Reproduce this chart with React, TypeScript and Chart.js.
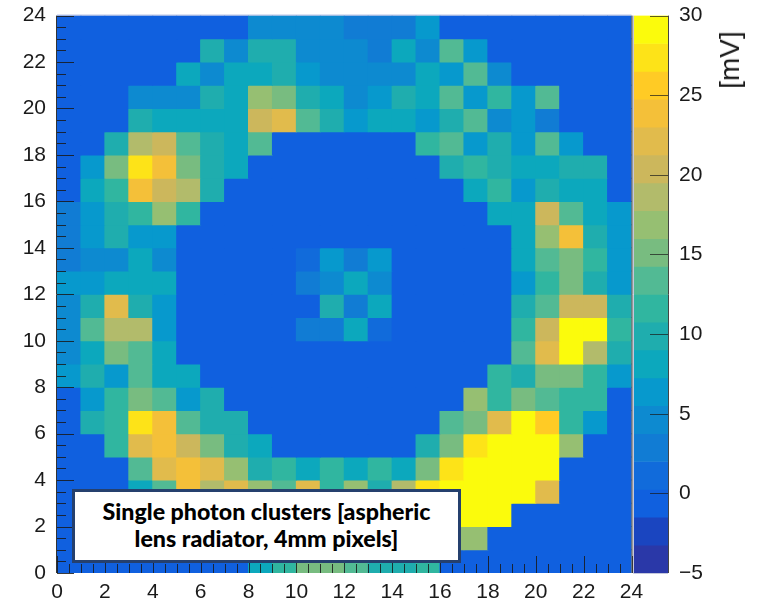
import React, { useEffect, useRef } from "react";
import { Chart, registerables } from "chart.js";

Chart.register(...registerables);

const NX = 24;
const NY = 24;
const Z_MIN = -5;
const Z_MAX = 30;
const X_TICK_STEP = 2;
const Y_TICK_STEP = 2;
const Z_TICK_STEP = 5;
const MINOR_STEP = 0.5;
const Z_UNIT = "[mV]";
const NOTE_LINES = ["Single photon clusters [aspheric", "lens radiator, 4mm pixels]"];

// palette bands, lowest value first
const paletteBands = [
  "#2a38a8", "#1a45c0", "#1060df", "#116bdb", "#117cd4", "#0d8ad0", "#0799cd",
  "#0ca8bd", "#1fadae", "#30b6a0", "#52ba94", "#78bc80", "#96bf72", "#b2bb6b",
  "#ccb75c", "#e1bb4c", "#f4c039", "#ffcb25", "#fde318", "#fbfb0c",
];

// values in mV per row, left to right
const row23 = [0,0,0,0,0,0,0,0,4.6,4.6,4.6,4.6,2.9,2.9,2.9,6.4,0,0,0,0,0,0,0,0];
const row22 = [0,0,0,0,0,0,9.9,4.6,9.9,9.9,4.6,4.6,4.6,2.9,8.1,4.6,13.4,6.4,0,0,0,0,0,0];
const row21 = [0,0,0,0,0,8.1,4.6,8.1,8.1,9.9,6.4,4.6,4.6,4.6,4.6,8.1,6.4,13.4,4.6,0,0,0,0,0];
const row20 = [0,0,0,4.6,4.6,4.6,9.9,8.1,16.9,15.1,9.9,8.1,4.6,6.4,9.9,8.1,13.4,6.4,11.6,6.4,13.4,0,0,0];
const row19 = [0,0,0,9.9,8.1,8.1,8.1,8.1,20.4,22.1,13.4,9.9,6.4,8.1,8.1,6.4,9.9,13.4,4.6,6.4,2.9,0,0,0];
const row18 = [0,0,9.9,18.6,20.4,13.4,9.9,8.1,13.4,0,0,0,0,0,0,11.6,13.4,6.4,9.9,6.4,13.4,6.4,0,0];
const row17 = [0,6.4,15.1,27.4,23.9,15.1,9.9,8.1,0,0,0,0,0,0,0,0,9.9,11.6,9.9,8.1,8.1,9.9,9.9,0];
const row16 = [0,8.1,11.6,23.9,20.4,18.6,9.9,0,0,0,0,0,0,0,0,0,0,8.1,11.6,6.4,9.9,8.1,8.1,0];
const row15 = [2.9,6.4,9.9,11.6,16.9,11.6,0,0,0,0,0,0,0,0,0,0,0,0,8.1,8.1,20.4,13.4,8.1,6.4];
const row14 = [2.9,6.4,9.9,6.4,6.4,0,0,0,0,0,0,0,0,0,0,0,0,0,0,8.1,16.9,23.9,9.9,6.4];
const row13 = [2.9,4.6,4.6,8.1,4.6,0,0,0,0,0,1.1,6.4,2.9,6.4,0,0,0,0,0,8.1,13.4,15.1,11.6,6.4];
const row12 = [6.4,6.4,8.1,8.1,8.1,0,0,0,0,0,2.9,4.6,8.1,4.6,0,0,0,0,0,6.4,11.6,15.1,9.9,6.4];
const row11 = [4.6,9.9,22.1,9.9,6.4,0,0,0,0,0,0,9.9,2.9,8.1,0,0,0,0,0,9.9,13.4,20.4,20.4,9.9];
const row10 = [4.6,13.4,18.6,18.6,6.4,0,0,0,0,0,2.9,2.9,8.1,1.1,0,0,0,0,0,11.6,20.4,30,30,11.6];
const row9 = [4.6,8.1,15.1,13.4,8.1,0,0,0,0,0,0,0,0,0,0,0,0,0,0,13.4,22.1,30,18.6,9.9];
const row8 = [6.4,9.9,6.4,13.4,8.1,8.1,0,0,0,0,0,0,0,0,0,0,0,0,11.6,9.9,15.1,15.1,11.6,6.4];
const row7 = [0,6.4,11.6,15.1,13.4,6.4,9.9,0,0,0,0,0,0,0,0,0,0,16.9,11.6,15.1,13.4,11.6,11.6,0];
const row6 = [0,9.9,11.6,27.4,23.9,13.4,9.9,9.9,0,0,0,0,0,0,0,0,13.4,15.1,22.1,30,25.6,11.6,6.4,0];
const row5 = [0,0,11.6,22.1,23.9,20.4,15.1,9.9,8.1,0,0,0,0,0,0,9.9,15.1,27.4,30,30,30,16.9,0,0];
const row4 = [0,0,0,13.4,22.1,23.9,22.1,16.9,9.9,11.6,8.1,11.6,8.1,11.6,8.1,15.1,27.4,30,30,30,30,0,0,0];
const row3 = [0,0,0,8.1,13.4,23.9,18.6,22.1,16.9,13.4,22.1,11.6,16.9,9.9,18.6,27.4,30,30,30,30,22.1,0,0,0];
const row2 = [0,0,0,0,6.4,11.6,13.4,15.1,13.4,11.6,13.4,15.1,13.4,15.1,20.4,30,30,30,30,0,0,0,0,0];
const row1 = [0,0,0,0,0,6.4,8.1,9.9,11.6,13.4,13.4,15.1,15.1,13.4,15.1,15.1,16.9,16.9,0,0,0,0,0,0];
const row0 = [0,0,0,0,0,0,0,0,8.1,11.6,15.1,15.1,13.4,9.9,9.9,11.6,0,0,0,0,0,0,0,0];

const rowsFromBottom = [
  row0, row1, row2, row3, row4, row5, row6, row7, row8, row9, row10, row11,
  row12, row13, row14, row15, row16, row17, row18, row19, row20, row21, row22, row23,
];

const bandWidth = (Z_MAX - Z_MIN) / paletteBands.length;
const colorOf = (v: number) =>
  paletteBands[Math.min(paletteBands.length - 1, Math.max(0, Math.floor((v - Z_MIN) / bandWidth)))];

const FONT = { family: "'Liberation Sans', Arial, sans-serif", size: 21 };
const TICK_COLOR = "#1a1a1a";

const frame = { left: 57, right: 631.5, top: 14, bottom: 573, barLeft: 634, barRight: 668 };

function seq(from: number, to: number, step: number) {
  const out: number[] = [];
  for (let i = 0; from + i * step <= to + 1e-9; i++) out.push(from + i * step);
  return out;
}

const heatTicks = {
  id: "heatTicks",
  afterDatasetsDraw(chart: any) {
    const { ctx, chartArea: a, scales } = chart;
    ctx.save();
    ctx.lineWidth = 1;
    ctx.strokeStyle = TICK_COLOR;
    ctx.globalAlpha = 0.85;
    seq(0, NX, MINOR_STEP).forEach((v) => {
      const px = Math.round(scales.x.getPixelForValue(v)) + 0.5;
      const len = v % X_TICK_STEP === 0 ? 17 : 9;
      ctx.beginPath();
      ctx.moveTo(px, a.bottom);
      ctx.lineTo(px, a.bottom - len);
      ctx.stroke();
    });
    seq(0, NY, MINOR_STEP).forEach((v) => {
      const py = Math.round(scales.y.getPixelForValue(v)) + 0.5;
      const len = v % Y_TICK_STEP === 0 ? 17 : 9;
      ctx.beginPath();
      ctx.moveTo(a.left, py);
      ctx.lineTo(a.left + len, py);
      ctx.stroke();
    });
    ctx.globalAlpha = 1;
    ctx.strokeStyle = "#333333";
    ctx.beginPath();
    ctx.moveTo(a.left - 0.5, a.top);
    ctx.lineTo(a.left - 0.5, a.bottom);
    ctx.moveTo(a.right + 0.5, a.top);
    ctx.lineTo(a.right + 0.5, a.bottom);
    ctx.stroke();
    ctx.strokeStyle = "#a9b8e0";
    ctx.beginPath();
    ctx.moveTo(a.left, a.top - 0.5);
    ctx.lineTo(a.right, a.top - 0.5);
    ctx.stroke();
    ctx.restore();
  },
};

const barTicks = {
  id: "barTicks",
  afterDatasetsDraw(chart: any) {
    const { ctx, chartArea: a, scales } = chart;
    ctx.save();
    ctx.lineWidth = 1;
    ctx.strokeStyle = TICK_COLOR;
    seq(Z_MIN, Z_MAX, Z_TICK_STEP).forEach((v) => {
      const py = Math.round(scales.y.getPixelForValue(v)) + 0.5;
      ctx.globalAlpha = 0.7;
      ctx.beginPath();
      ctx.moveTo(a.right - 18, py);
      ctx.lineTo(a.right, py);
      ctx.stroke();
    });
    ctx.globalAlpha = 1;
    ctx.strokeStyle = "#444444";
    ctx.beginPath();
    ctx.moveTo(a.right + 0.5, a.top);
    ctx.lineTo(a.right + 0.5, a.bottom);
    ctx.stroke();
    ctx.strokeStyle = "#c4c8dc";
    ctx.beginPath();
    ctx.moveTo(a.left - 0.5, a.top);
    ctx.lineTo(a.left - 0.5, a.bottom + 0.5);
    ctx.lineTo(a.right, a.bottom + 0.5);
    ctx.stroke();
    ctx.restore();
  },
};

export default function App() {
  const heatRef = useRef<HTMLCanvasElement>(null);
  const barRef = useRef<HTMLCanvasElement>(null);

  useEffect(() => {
    const points: { x: number; y: [number, number]; v: number }[] = [];
    rowsFromBottom.forEach((row, r) =>
      row.forEach((v, c) => points.push({ x: c + 0.5, y: [r, r + 1], v }))
    );

    const heat = new Chart(heatRef.current!, {
      type: "bar",
      data: {
        datasets: [
          {
            data: points as any,
            backgroundColor: points.map((p) => colorOf(p.v)),
            borderWidth: 0,
            barPercentage: 1,
            categoryPercentage: 1,
            inflateAmount: 0.5,
          } as any,
        ],
      },
      options: {
        responsive: false,
        animation: false,
        layout: {
          padding: { top: frame.top, right: 776 - frame.right, left: 0, bottom: 0 },
        },
        plugins: { legend: { display: false }, tooltip: { enabled: false } },
        scales: {
          x: {
            type: "linear",
            min: 0,
            max: NX,
            offset: false,
            grid: { display: false, offset: false },
            border: { display: false },
            ticks: { stepSize: X_TICK_STEP, color: "#1a1a1a", font: FONT, maxRotation: 0, padding: -1 },
            afterFit: (s: any) => {
              s.height = 605 - frame.bottom;
            },
          },
          y: {
            type: "linear",
            min: 0,
            max: NY,
            grid: { display: false },
            border: { display: false },
            ticks: { stepSize: Y_TICK_STEP, color: "#1a1a1a", font: FONT, padding: 3 },
            afterFit: (s: any) => {
              s.width = frame.left;
            },
          },
        },
      },
      plugins: [heatTicks],
    } as any);

    const levels = paletteBands.map((color, i) => ({
      x: "",
      y: [Z_MIN + i * bandWidth, Z_MIN + (i + 1) * bandWidth],
    }));

    const bar = new Chart(barRef.current!, {
      type: "bar",
      data: {
        labels: [""],
        datasets: [
          {
            data: levels as any,
            backgroundColor: paletteBands,
            borderWidth: 0,
            grouped: false,
            barPercentage: 1,
            categoryPercentage: 1,
          } as any,
        ],
      },
      options: {
        responsive: false,
        animation: false,
        layout: {
          padding: { top: frame.top, left: frame.barLeft, right: 0, bottom: 605 - frame.bottom },
        },
        plugins: { legend: { display: false }, tooltip: { enabled: false } },
        scales: {
          x: { display: false, grid: { display: false } },
          y: {
            type: "linear",
            position: "right",
            min: Z_MIN,
            max: Z_MAX,
            grid: { display: false },
            border: { display: false },
            ticks: {
              stepSize: Z_TICK_STEP,
              color: "#1a1a1a",
              font: FONT,
              padding: 3,
              callback: (v: any) => (Number(v) < 0 ? "\u2212" + Math.abs(Number(v)) : String(v)),
            },
            afterFit: (s: any) => {
              s.width = 776 - frame.barRight;
            },
          },
        },
      },
      plugins: [barTicks],
    } as any);

    return () => {
      heat.destroy();
      bar.destroy();
    };
  }, []);

  return (
    <div style={{ position: "fixed", left: 0, top: 0, width: 776, height: 605, background: "#fff", overflow: "hidden" }}>
      <canvas ref={heatRef} width={776} height={605} style={{ position: "absolute", left: 0, top: 0 }} />
      <canvas ref={barRef} width={776} height={605} style={{ position: "absolute", left: 0, top: 0 }} />
      <div
        style={{
          position: "absolute",
          left: 730,
          top: 60,
          transform: "translate(-50%, -50%) rotate(-90deg)",
          fontFamily: "'Liberation Sans', Arial, sans-serif",
          fontSize: 28,
          color: "#1a1a1a",
          whiteSpace: "nowrap",
        }}
      >
        {Z_UNIT}
      </div>
      <div
        style={{
          position: "absolute",
          left: 72,
          top: 489,
          width: 389,
          height: 74,
          boxSizing: "border-box",
          background: "#fff",
          border: "3px solid #25406e",
          display: "flex",
          flexDirection: "column",
          alignItems: "center",
          justifyContent: "center",
          paddingBottom: 2,
          fontFamily: "Lato, sans-serif",
          fontWeight: 900,
          fontSize: 23.2,
          lineHeight: "27px",
          color: "#000",
          whiteSpace: "nowrap",
        }}
      >
        {NOTE_LINES.map((l) => (
          <div key={l}>{l}</div>
        ))}
      </div>
    </div>
  );
}
